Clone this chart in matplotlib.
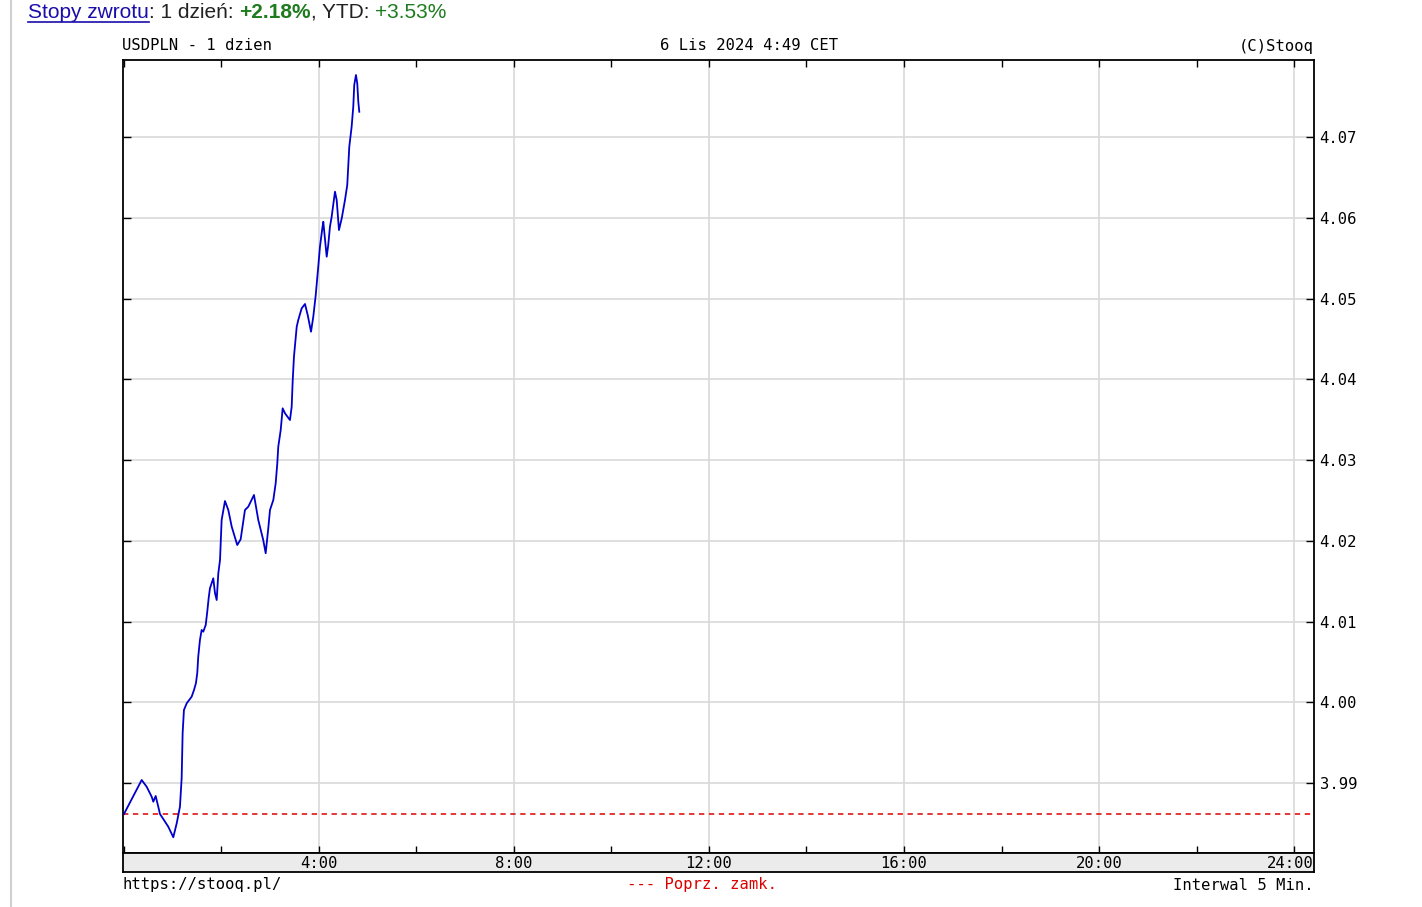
import matplotlib
matplotlib.use("Agg")
import matplotlib.pyplot as plt
from matplotlib.lines import Line2D

# USDPLN intraday, minutes after midnight and rate
minutes = [0, 21.8, 27.9, 34.1, 36.1, 39.0, 42.2, 44.3, 50.5, 54.5, 60.7, 64.9, 68.9,
           71.0, 72.2, 73.8, 77.2, 83.3, 86.2, 88.6, 90.2, 91.4, 93.5, 95.6, 97.6,
           100.6, 102.5, 104.2, 105.8, 109.9, 112.0, 114.1, 116.1, 118.2, 120.2,
           124.3, 128.4, 132.6, 139.4, 143.6, 148.9, 153.0, 160.0, 165.3, 171.4,
           174.4, 177.6, 179.7, 183.8, 186.7, 188.7, 189.9, 192.9, 195.3, 198.2,
           204.3, 206.4, 207.6, 209.2, 212.6, 214.5, 218.7, 222.8, 226.1, 230.2,
           233.0, 236.0, 239.1, 241.2, 244.1, 245.3, 249.5, 251.4, 253.5, 255.6,
           259.7, 261.8, 264.6, 268.0, 272.0, 274.8, 277.3, 280.2, 282.2, 283.4,
           285.5, 287.1, 288.4, 289.6]
rates = [3.98616, 3.99037, 3.98954, 3.98830, 3.98768, 3.98839, 3.98707, 3.98616,
         3.98521, 3.98459, 3.98328, 3.98501, 3.98707, 3.99062, 3.99619, 3.99904,
         3.99987, 4.00069, 4.00152, 4.00238, 4.00362, 4.00564, 4.00771, 4.00895,
         4.00874, 4.00957, 4.01121, 4.01287, 4.01411, 4.01535, 4.01353, 4.01266,
         4.01597, 4.01762, 4.02257, 4.02492, 4.02381, 4.02174, 4.01947, 4.02018,
         4.02381, 4.02422, 4.02567, 4.02257, 4.02009, 4.01845, 4.02154, 4.02381,
         4.02505, 4.02711, 4.02959, 4.03165, 4.03372, 4.03640, 4.03578, 4.03495,
         4.03660, 4.03970, 4.04279, 4.04651, 4.04734, 4.04879, 4.04932, 4.04796,
         4.04589, 4.04775, 4.05043, 4.05394, 4.05641, 4.05869, 4.05951, 4.05518,
         4.05663, 4.05889, 4.06013, 4.06323, 4.06220, 4.05848, 4.05993, 4.06220,
         4.06406, 4.06880, 4.07128, 4.07375, 4.07644, 4.07768, 4.07665, 4.07437,
         4.07313]
prev_close = 3.98616

y_ticks = [3.99, 4.00, 4.01, 4.02, 4.03, 4.04, 4.05, 4.06, 4.07]
x_labels = ["4:00", "8:00", "12:00", "16:00", "20:00", "24:00"]
x_label_hours = [4, 8, 12, 16, 20, 24]

W, H = 1422, 907
MONO = "DejaVu Sans Mono"

fig = plt.figure(figsize=(W / 100, H / 100), dpi=100)
fig.patch.set_facecolor("white")


def fx(px):
    return px / W


def fy(py):
    return 1 - py / H


# page border line on the left
fig.add_artist(Line2D([fx(11), fx(11)], [0, 1], color="#d0d0d0", lw=1.5))

# main plot
L, R, T, B = 123, 1314, 60, 853
ax = fig.add_axes([fx(L), fy(B), fx(R - L), (B - T) / H])
hours = [m / 60 for m in minutes]
ax.plot(hours, rates, color="#0000cc", lw=1.3, zorder=3)
ax.axhline(prev_close, color="#dd0000", lw=1.1, dashes=(3.5, 3), zorder=2)

ax.set_xlim(-0.02, 24.41)
ax.set_ylim(3.98133, 4.07954)

ax.set_xticks(range(0, 25, 2))
ax.set_yticks(y_ticks)
ax.tick_params(axis="x", which="both", direction="in", length=5, width=1,
               top=True, bottom=True, labelbottom=False, color="black")
ax.tick_params(axis="y", which="both", direction="in", length=5.5, width=1,
               left=True, right=True, labelleft=False, labelright=True,
               labelsize=11.2, pad=4, color="black")
ax.set_yticklabels([f"{v:.2f}" for v in y_ticks], family=MONO)
for v in y_ticks:
    ax.axhline(v, color="#d9d9d9", lw=1.2, zorder=1)
for h in x_label_hours:
    ax.axvline(h, color="#d9d9d9", lw=1.2, zorder=1)
for s in ax.spines.values():
    s.set_linewidth(1.3)
    s.set_color("black")

# grey band with the hour labels
band_bottom = 872
band = fig.add_axes([fx(L), fy(band_bottom), fx(R - L), (band_bottom - B) / H])
band.set_facecolor("#ebebeb")
band.set_xlim(ax.get_xlim())
band.set_ylim(0, 1)
band.set_xticks([])
band.set_yticks([])
for s in band.spines.values():
    s.set_linewidth(1.3)
for h, lab in zip(x_label_hours, x_labels):
    ha = "right" if h == 24 else "center"
    xh = 24.4 if h == 24 else h
    band.text(xh, 0.45, lab, ha=ha, va="center", family=MONO, fontsize=11.2)

# header / footer texts
fig.text(fx(122), fy(46), "USDPLN - 1 dzien", family=MONO, fontsize=11.2,
         ha="left", va="center")
fig.text(fx(749), fy(46), "6 Lis 2024 4:49 CET", family=MONO, fontsize=11.2,
         ha="center", va="center")
fig.text(fx(1314), fy(46), "(C)Stooq", family=MONO, fontsize=11.2,
         ha="right", va="center")
fig.text(fx(122), fy(885), "https://stooq.pl/", family=MONO, fontsize=11.2,
         ha="left", va="center")
fig.text(fx(702), fy(885), "--- Poprz. zamk.", family=MONO, fontsize=11.2,
         ha="center", va="center", color="#dd0000")
fig.text(fx(1314), fy(885), "Interwal 5 Min.", family=MONO, fontsize=11.2,
         ha="right", va="center")

# "Stopy zwrotu" line above the chart
parts = [("Stopy zwrotu", "#1a0dab", "normal"),
         (": 1 dzień: ", "#222222", "normal"),
         ("+2.18%", "#1e7b1e", "bold"),
         (", YTD: ", "#222222", "normal"),
         ("+3.53%", "#1e7b1e", "normal")]
renderer = fig.canvas.get_renderer()
x = fx(28)
for i, (s, c, w) in enumerate(parts):
    t = fig.text(x, fy(12), s, color=c, fontweight=w, family="Liberation Sans",
                 fontsize=15, ha="left", va="center")
    bb = t.get_window_extent(renderer)
    if i == 0:
        fig.add_artist(Line2D([bb.x0 / W, bb.x1 / W], [fy(22), fy(22)],
                              color="#1a0dab", lw=1.2))
    x += bb.width / W

fig.savefig("out.png", dpi=100)
